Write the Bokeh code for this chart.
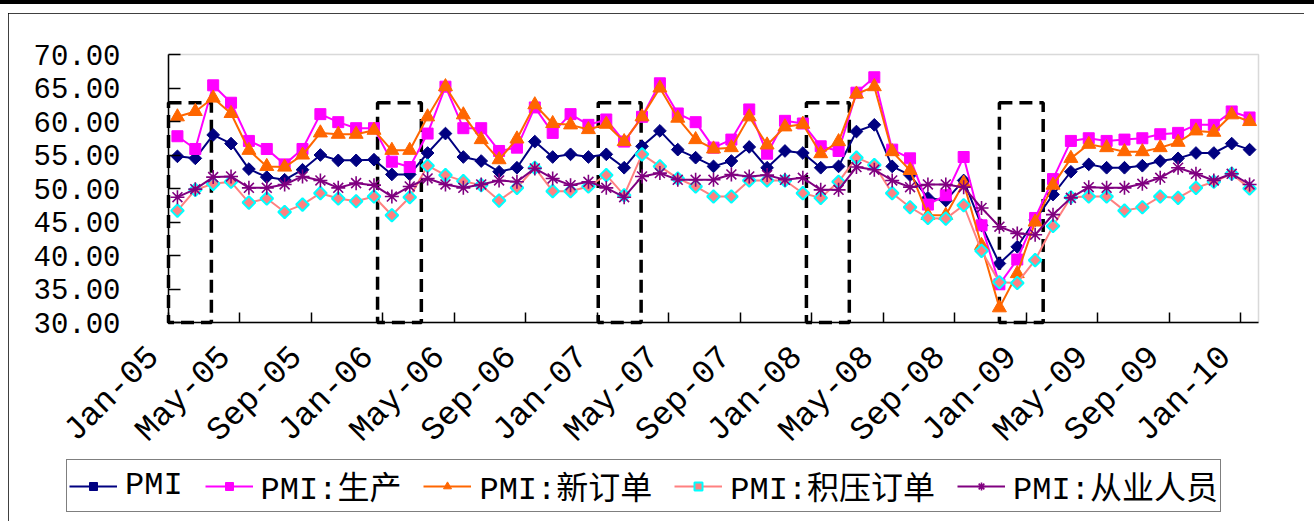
import math
from bokeh.plotting import figure
from bokeh.models import (Range1d, FixedTicker, LinearAxis, Legend, LegendItem,
                          ColumnDataSource, BoxAnnotation)
from bokeh.embed import file_html
from bokeh.resources import INLINE

# ---- data (monthly, Jan-05 .. Jan-10) ----
pmi = [54.8, 54.5, 58.0, 56.7, 52.9, 51.7, 51.3, 52.8, 55.0, 54.2, 54.2, 54.3,
       52.1, 52.1, 55.3, 58.2, 54.7, 54.1, 52.5, 53.1, 57.0, 54.7, 55.1, 54.7,
       55.1, 53.1, 56.3, 58.6, 55.8, 54.6, 53.3, 54.1, 56.2, 53.1, 55.6, 55.3,
       53.1, 53.3, 58.5, 59.5, 53.3, 52.0, 48.6, 48.2, 51.2, 44.5, 38.8, 41.3,
       45.3, 49.1, 52.5, 53.6, 53.1, 53.1, 53.4, 54.1, 54.5, 55.3, 55.3, 56.7, 55.8]
production = [57.8, 55.9, 65.4, 62.8, 57.1, 55.9, 53.6, 55.9, 61.1, 59.9, 59.0, 59.0,
              54.0, 53.2, 58.2, 65.2, 59.0, 59.0, 55.6, 56.1, 62.1, 58.3, 61.1, 59.5,
              60.3, 57.0, 60.7, 65.7, 61.2, 59.9, 56.1, 57.3, 61.8, 55.2, 60.1, 59.7,
              56.3, 55.6, 64.3, 66.6, 55.8, 54.5, 47.6, 49.0, 54.7, 44.5, 35.7, 39.4,
              45.6, 51.4, 57.1, 57.5, 57.1, 57.3, 57.5, 58.1, 58.3, 59.5, 59.5, 61.5, 60.6]
new_orders = [60.7, 61.5, 63.5, 61.2, 55.7, 53.3, 53.2, 55.0, 58.3, 58.1, 58.1, 58.7,
              55.7, 55.7, 60.7, 65.2, 61.0, 57.3, 54.3, 57.4, 62.5, 59.7, 59.5, 58.8,
              59.6, 57.0, 60.7, 65.0, 60.5, 57.3, 55.9, 56.1, 60.7, 56.5, 59.2, 59.6,
              55.2, 57.0, 64.1, 65.2, 55.5, 52.7, 46.0, 46.0, 50.8, 41.5, 32.2, 37.3,
              45.0, 50.5, 54.5, 56.6, 56.1, 55.5, 55.5, 56.1, 56.9, 58.6, 58.4, 61.0, 60.0]
backlog = [46.7, 49.8, 50.7, 51.0, 47.9, 48.5, 46.5, 47.6, 49.3, 48.5, 48.1, 48.8,
           46.0, 48.7, 53.4, 52.0, 51.1, 50.5, 48.2, 50.1, 53.1, 49.6, 49.6, 50.3,
           52.0, 49.0, 55.1, 53.3, 51.5, 50.3, 48.8, 48.8, 51.2, 51.2, 51.2, 49.3,
           48.6, 51.0, 54.6, 53.5, 49.3, 47.2, 45.6, 45.5, 47.5, 40.7, 36.0, 35.9,
           39.3, 44.4, 48.7, 48.8, 48.8, 46.7, 47.2, 48.8, 48.6, 50.1, 51.0, 52.2, 50.0]
employment = [48.7, 49.9, 51.7, 51.8, 50.1, 50.1, 50.6, 51.8, 51.2, 50.1, 50.8, 50.5,
              48.8, 50.3, 51.5, 50.6, 50.1, 50.6, 51.2, 51.0, 53.0, 51.5, 50.5, 51.0,
              50.1, 48.7, 51.8, 52.3, 51.3, 51.3, 51.3, 52.1, 51.8, 52.0, 51.3, 51.6,
              49.8, 49.8, 53.2, 52.8, 51.2, 50.2, 50.6, 50.6, 50.2, 47.1, 44.3, 43.3,
              43.1, 46.1, 48.6, 50.2, 50.1, 50.1, 50.7, 51.6, 53.1, 52.2, 51.2, 52.2, 50.6]

series_names = ["PMI", "PMI:生产", "PMI:新订单", "PMI:积压订单", "PMI:从业人员"]

x_tick_labels = ["Jan-05", "May-05", "Sep-05", "Jan-06", "May-06", "Sep-06",
                 "Jan-07", "May-07", "Sep-07", "Jan-08", "May-08", "Sep-08",
                 "Jan-09", "May-09", "Sep-09", "Jan-10"]
y_ticks = [30, 35, 40, 45, 50, 55, 60, 65, 70]
y_tick_labels = ["30.00", "35.00", "40.00", "45.00", "50.00", "55.00", "60.00", "65.00", "70.00"]

# dashed highlight boxes (in month-index units)
box_left = [-0.5, 11.2, 23.55, 35.2, 46.0]
box_right = [1.9, 13.65, 25.95, 37.6, 48.45]
box_top = 62.8

# ---- geometry ----
n = len(pmi)
xs = list(range(n))
MONO = "'Liberation Mono', 'Noto Sans CJK SC'"

OX, OY = 8, 13            # canvas offset on the page
W, H = 1296, 508          # canvas size
Y0, Y1 = 30, 70           # value axis
X0, X1 = -0.5, n - 0.5    # category axis
# plot area (page px) and frame (page px, covers labels and legend)
PL, PR, PT, PB = 168, 1258, 54, 322
FL, FR, FT, FB = 18, 1294, 24, 516
kx = (X1 - X0) / (PR - PL)
ky = (Y1 - Y0) / (PB - PT)
xr = Range1d(X0 - (PL - FL) * kx, X1 + (FR - PR) * kx)
yr = Range1d(Y0 - (FB - PB) * ky, Y1 + (PT - FT) * ky)

p = figure(width=W, height=H, output_backend="svg", toolbar_location=None,
           x_range=xr, y_range=yr,
           min_border_left=FL - OX, min_border_right=OX + W - FR, min_border_top=FT - OY,
           min_border_bottom=OY + H - FB)
p.xgrid.visible = False
p.ygrid.visible = False
p.outline_line_color = None
p.background_fill_color = "white"
p.border_fill_color = "white"
p.styles = {"margin-left": f"{OX}px", "margin-top": f"{OY}px",
            "outline": "2px solid black", "outline-offset": "-2px",
            "box-shadow": "0 1px 0 10px white, 0 -13px 0 10px black"}

# plot-area border (grey)
p.add_layout(BoxAnnotation(left=X0, right=X1, bottom=Y0, top=Y1, fill_alpha=0,
                           line_color="#808080", line_width=1.5, level="underlay"))

# boxes
p.quad(left=box_left, right=box_right, bottom=[Y0] * len(box_left), top=[box_top] * len(box_left),
       fill_alpha=0, line_color="black", line_width=3.5, line_dash="13 7")

src = ColumnDataSource(dict(x=xs, pmi=pmi, prod=production, new=new_orders, back=backlog, emp=employment))

items = []
r1 = p.line("x", "pmi", source=src, line_color="#000080", line_width=2)
m1 = p.scatter("x", "pmi", source=src, marker="square", angle=math.pi / 4, size=9,
               fill_color="#000080", line_color="#000080")
items.append(LegendItem(label=series_names[0], renderers=[r1, m1]))

r2 = p.line("x", "prod", source=src, line_color="#FF00FF", line_width=2)
m2 = p.scatter("x", "prod", source=src, marker="square", size=11,
               fill_color="#FF00FF", line_color="#FF00FF")
items.append(LegendItem(label=series_names[1], renderers=[r2, m2]))

r3 = p.line("x", "new", source=src, line_color="#FF6600", line_width=2)
m3 = p.scatter("x", "new", source=src, marker="triangle", size=14,
               fill_color="#FF6600", line_color="#FF6600")
items.append(LegendItem(label=series_names[2], renderers=[r3, m3]))

r4 = p.line("x", "back", source=src, line_color="#FF8080", line_width=2)
m4 = p.scatter("x", "back", source=src, marker="square", angle=math.pi / 4, size=9,
               fill_color="#FF8080", line_color="#00FFFF", line_width=2)
items.append(LegendItem(label=series_names[3], renderers=[r4, m4]))

r5 = p.line("x", "emp", source=src, line_color="#800080", line_width=2)
m5 = p.scatter("x", "emp", source=src, marker="asterisk", size=14,
               line_color="#800080", line_width=1.6)
items.append(LegendItem(label=series_names[4], renderers=[r5, m5]))

# y axis
ya = p.yaxis[0]
ya.fixed_location = X0
ya.bounds = (Y0, Y1)
ya.ticker = FixedTicker(ticks=y_ticks)
ya.major_label_overrides = {t: l for t, l in zip(y_ticks, y_tick_labels)}
ya.major_tick_in = 12
ya.major_tick_out = 0
ya.minor_tick_line_color = None
ya.axis_line_color = "black"
ya.axis_line_width = 1.5
ya.major_tick_line_color = "black"
ya.major_tick_line_width = 1.5
ya.major_label_text_font = MONO
ya.major_label_text_font_size = "29px"
ya.major_label_text_color = "black"
ya.major_label_standoff = 48

# x axis: tick marks at category boundaries every 4 months (no labels)
bticks = [i * 4 - 0.5 for i in range(len(x_tick_labels))]
xa = p.xaxis[0]
xa.fixed_location = Y0
xa.bounds = (X0, X1)
xa.ticker = FixedTicker(ticks=bticks)
xa.major_label_overrides = {t: "" for t in bticks}
xa.major_tick_in = 10
xa.major_tick_out = 0
xa.minor_tick_line_color = None
xa.axis_line_color = "black"
xa.axis_line_width = 1.5
xa.major_tick_line_color = "black"
xa.major_tick_line_width = 1.5
xa.major_label_text_font_size = "1px"
xa.major_label_standoff = 0

# x labels axis
label_pos = [i * 4 - 1.3 for i in range(len(x_tick_labels))]
xl = LinearAxis(ticker=FixedTicker(ticks=label_pos), fixed_location=Y0,
                major_label_overrides={pos: lab for pos, lab in zip(label_pos, x_tick_labels)})
xl.axis_line_color = None
xl.major_tick_line_color = None
xl.minor_tick_line_color = None
xl.major_tick_in = 0
xl.major_tick_out = 0
xl.major_label_orientation = math.pi / 4
xl.major_label_text_font = MONO
xl.major_label_text_font_size = "33px"
xl.major_label_text_color = "black"
xl.major_label_standoff = 30
p.add_layout(xl, "below")

legend = Legend(items=items, orientation="horizontal", location=(66 - FL, FB - 512),
                glyph_width=48, glyph_height=20, label_standoff=8, spacing=22,
                padding=2, margin=0, label_height=30,
                border_line_color="black", border_line_width=1,
                label_text_font=MONO, label_text_font_size="32px", label_text_color="black",
                background_fill_alpha=1)
p.add_layout(legend, "center")

open("out.html", "w").write(file_html(p, INLINE))
